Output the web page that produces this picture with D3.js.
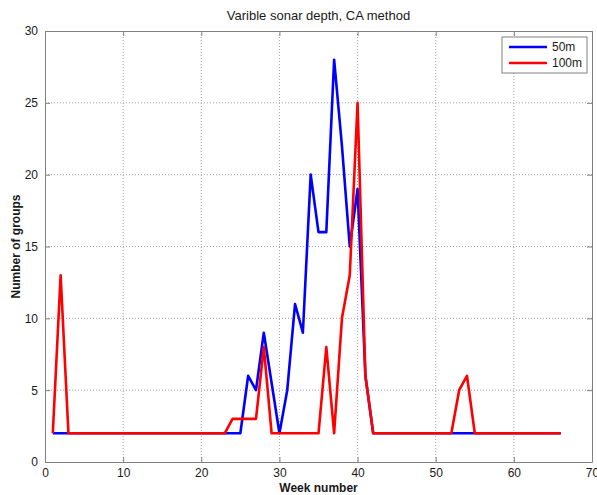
<!DOCTYPE html>
<head>
  <meta charset="utf-8">
  <script src="https://d3js.org/d3.v7.min.js"></script>
  <style>
    body { margin:0; background:#fff; }
    text { font-family: "Liberation Sans", Arial, sans-serif; }
  </style>
</head>
<body>
<div id="chart"></div>
<script>
  // week numbers 1..66
  var weeks = d3.range(1, 67);
  // 50m series, one value per week
  var depth50 = [2,2,2,2,2,2,2,2,2,2, 2,2,2,2,2,2,2,2,2,2, 2,2,2,2,2,6,5,9,5.5,2,
                 5,11,9,20,16,16,28,22,15,19, 6,2,2,2,2,2,2,2,2,2, 2,2,2,2,2,2,2,2,2,2,
                 2,2,2,2,2,2];
  // 100m series
  var depth100 = [2,13,2,2,2,2,2,2,2,2, 2,2,2,2,2,2,2,2,2,2, 2,2,2,3,3,3,3,8,2,2,
                  2,2,2,2,2,8,2,10,13,25, 6,2,2,2,2,2,2,2,2,2, 2,2,5,6,2,2,2,2,2,2,
                  2,2,2,2,2,2];
  var seriesNames = ["50m", "100m"];
  var seriesColors = ["#0000ff", "#ff0000"];
  var xTicks = [0,10,20,30,40,50,60,70];
  var yTicks = [0,5,10,15,20,25,30];

  var width = 597, height = 495;
  var margin = {top: 31, right: 5, bottom: 33, left: 45};
  var plotW = width - margin.left - margin.right;
  var plotH = height - margin.top - margin.bottom;

  var svg = d3.select("#chart").append("svg")
    .attr("width", width)
    .attr("height", height);

  var g = svg.append("g")
    .attr("transform", "translate(" + margin.left + "," + margin.top + ")");

  var xScale = d3.scaleLinear().domain([0, 70]).range([0, plotW]);
  var yScale = d3.scaleLinear().domain([0, 30]).range([plotH, 0]);

  //grid lines
  g.append("g").selectAll("line.gx")
    .data(xTicks.slice(1, -1))
    .enter().append("line")
    .attr("x1", function(d){ return xScale(d); })
    .attr("x2", function(d){ return xScale(d); })
    .attr("y1", 0).attr("y2", plotH)
    .attr("stroke", "#a0a0a0").attr("stroke-width", 1)
    .attr("stroke-dasharray", "1,2");
  g.append("g").selectAll("line.gy")
    .data(yTicks.slice(1, -1))
    .enter().append("line")
    .attr("y1", function(d){ return yScale(d); })
    .attr("y2", function(d){ return yScale(d); })
    .attr("x1", 0).attr("x2", plotW)
    .attr("stroke", "#a0a0a0").attr("stroke-width", 1)
    .attr("stroke-dasharray", "1,2");

  //axes, ticks pointing inward like matlab
  var xAxis = d3.axisBottom(xScale).tickValues(xTicks).tickSize(-5).tickPadding(6).tickSizeOuter(0);
  var yAxis = d3.axisLeft(yScale).tickValues(yTicks).tickSize(-5).tickPadding(7).tickSizeOuter(0);
  var xTop = d3.axisTop(xScale).tickValues(xTicks).tickSize(-5).tickFormat("").tickSizeOuter(0);
  var yRight = d3.axisRight(yScale).tickValues(yTicks).tickSize(-5).tickFormat("").tickSizeOuter(0);

  function styleAxis(sel) {
    sel.select(".domain").attr("stroke", "#808080");
    sel.selectAll(".tick line").attr("stroke", "#808080");
    sel.selectAll(".tick text").attr("fill", "#1a1a1a")
      .style("font-size", "12px");
  }
  g.append("g").attr("transform", "translate(0," + plotH + ")").call(xAxis).call(styleAxis);
  g.append("g").call(yAxis).call(styleAxis);
  g.append("g").call(xTop).call(styleAxis);
  g.append("g").attr("transform", "translate(" + plotW + ",0)").call(yRight).call(styleAxis);

  //lines
  var line = d3.line()
    .x(function(d){ return xScale(d[0]); })
    .y(function(d){ return yScale(d[1]); });
  [depth50, depth100].forEach(function(vals, i){
    g.append("path")
      .attr("d", line(weeks.map(function(w, j){ return [w, vals[j]]; })))
      .attr("fill", "none")
      .attr("stroke", seriesColors[i])
      .attr("stroke-width", 2.6)
      .attr("stroke-linejoin", "round");
  });

  //title and labels
  svg.append("text")
    .attr("x", margin.left + plotW / 2).attr("y", 20)
    .attr("text-anchor", "middle")
    .style("font-size", "13px").attr("fill", "#1a1a1a")
    .text("Varible sonar depth, CA method");
  svg.append("text")
    .attr("x", margin.left + plotW / 2).attr("y", 492)
    .attr("text-anchor", "middle")
    .style("font-size", "12px").style("font-weight", "bold").attr("fill", "#1a1a1a")
    .text("Week number");
  svg.append("text")
    .attr("transform", "translate(20," + (margin.top + plotH / 2) + ") rotate(-90)")
    .attr("text-anchor", "middle")
    .style("font-size", "12px").style("font-weight", "bold").attr("fill", "#1a1a1a")
    .text("Number of groups");

  //legend
  var legend = svg.append("g").attr("transform", "translate(502,37)");
  legend.append("rect")
    .attr("width", 85).attr("height", 36)
    .attr("fill", "#fff").attr("stroke", "#808080");
  seriesNames.forEach(function(name, i){
    legend.append("line")
      .attr("x1", 7).attr("x2", 45)
      .attr("y1", 10 + i * 16).attr("y2", 10 + i * 16)
      .attr("stroke", seriesColors[i]).attr("stroke-width", 2.6);
    legend.append("text")
      .attr("x", 50).attr("y", 14 + i * 16)
      .style("font-size", "12px").attr("fill", "#1a1a1a")
      .text(name);
  });
</script>
</body>
